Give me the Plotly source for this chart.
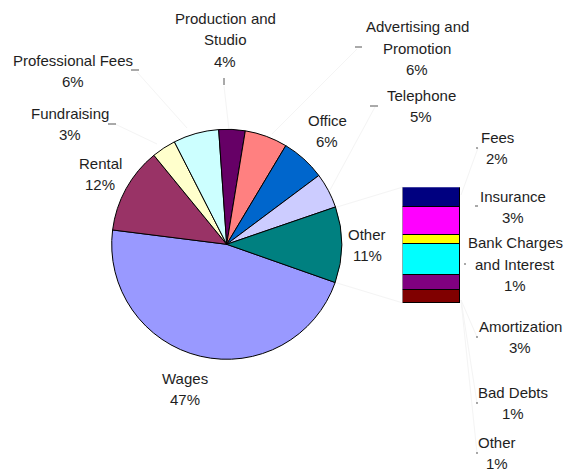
import plotly.graph_objects as go

# ---------------- data ----------------
primary_labels = ["Wages", "Rental", "Fundraising", "Professional Fees",
                  "Production and Studio", "Advertising and Promotion",
                  "Office", "Telephone"]
primary_values = [46.6, 12.1, 3.4, 6.4, 3.7, 6.0, 6.2, 4.95]
primary_colors = ["#9999FF", "#993366", "#FFFFCC", "#CCFFFF",
                  "#660066", "#FF8080", "#0066CC", "#CCCCFF"]

other_label = "Other"
other_color = "#008080"

secondary_labels = ["Fees", "Insurance", "Bank Charges and Interest",
                    "Amortization", "Bad Debts", "Other"]
secondary_values = [1.85, 2.55, 0.85, 2.85, 1.35, 1.2]
secondary_colors = ["#000080", "#FF00FF", "#FFFF00", "#00FFFF", "#800080", "#800000"]

# ---------------- layout helpers ----------------
W, H = 574, 473
FONT = "Liberation Sans, Arial, sans-serif"
FS = 15
LINE = 21.5
TXT = "#1e1e1e"


def px(x, y):
    return x / W, 1 - y / H


other_value = sum(secondary_values)
total = sum(primary_values) + other_value


def pct(v):
    return f"{round(v * 100 / total)}%"


wrap = {
    "Production and Studio": ["Production and", "Studio"],
    "Advertising and Promotion": ["Advertising and", "Promotion"],
    "Bank Charges and Interest": ["Bank Charges", "and Interest"],
}

fig = go.Figure()

# pie (primary)
cx, cy, r = 226.7, 244.3, 115
fig.add_trace(go.Pie(
    labels=primary_labels + [other_label + " "],
    values=primary_values + [other_value],
    marker=dict(colors=primary_colors + [other_color], line=dict(color="black", width=1)),
    sort=False, direction="clockwise", rotation=109.4,
    textinfo="none", hoverinfo="label+percent", showlegend=False,
    domain=dict(x=[(cx - r) / W, (cx + r) / W], y=[(H - cy - r) / H, (H - cy + r) / H]),
))

# stacked bar (secondary), bottom segment first
for lab, val, col in reversed(list(zip(secondary_labels, secondary_values, secondary_colors))):
    fig.add_trace(go.Bar(
        x=[0], y=[val], name=lab, width=1,
        marker=dict(color=col, line=dict(color="black", width=1)),
        showlegend=False, xaxis="x", yaxis="y",
    ))

bx0, bx1, by0, by1 = 402.7, 460, 187.3, 303.3
fig.update_layout(
    width=W, height=H,
    margin=dict(l=0, r=0, t=0, b=0),
    paper_bgcolor="white", plot_bgcolor="rgba(0,0,0,0)",
    barmode="stack", bargap=0,
    xaxis=dict(domain=[bx0 / W, bx1 / W], range=[-0.5, 0.5], visible=False, fixedrange=True),
    yaxis=dict(domain=[(H - by1) / H, (H - by0) / H], range=[0, other_value],
               visible=False, fixedrange=True),
    font=dict(family=FONT, size=FS, color=TXT),
)

# labels
label_pos = {
    "Wages": (185, 389), "Rental": (100, 174), "Fundraising": (70, 124),
    "Professional Fees": (73, 71), "Production and Studio": (225, 40),
    "Advertising and Promotion": (417, 48), "Office": (327, 131),
    "Telephone": (421, 106),
}
sec_pos = {
    "Fees": (497, 148), "Insurance": (513, 207), "Bank Charges and Interest": (515, 264),
    "Amortization": (520, 337), "Bad Debts": (513, 403), "Other": (497, 453),
}

annotations = []


def add_label(lines, pos):
    cxp, cyp = pos
    n = len(lines)
    for i, t in enumerate(lines):
        x, y = px(cxp, cyp + (i - (n - 1) / 2) * LINE)
        annotations.append(dict(x=x, y=y, xref="paper", yref="paper", showarrow=False,
                                text=t, xanchor="center", yanchor="middle"))


for lab, val in zip(primary_labels, primary_values):
    add_label(wrap.get(lab, [lab]) + [pct(val)], label_pos[lab])
add_label([other_label, pct(other_value)], (367, 245))
for lab, val in zip(secondary_labels, secondary_values):
    add_label(wrap.get(lab, [lab]) + [pct(val)], sec_pos[lab])
fig.update_layout(annotations=annotations)

# faint leader / connector lines and dark stubs
faint = [((137, 72), (187, 128)), ((115, 124), (157, 144)), ((224, 86), (229, 130)),
         ((357, 49), (272, 134)), ((375, 107), (330, 190)), ((478, 148), (461, 195)),
         ((337, 207), (403, 187)), ((337, 283), (403, 303)),
         ((461, 300), (477, 337)), ((461, 300), (477, 403)), ((461, 300), (477, 453))]
stubs = [((131, 70), (139, 70)), ((108, 124), (116, 124)), ((224, 78), (224, 85)),
         ((355, 47), (362, 47)), ((370, 106), (378, 106)), ((476, 148), (478, 148)),
         ((475, 206), (478, 206)), ((464, 264), (466, 264)), ((476, 337), (478, 337)),
         ((476, 403), (478, 403)), ((476, 453), (478, 453))]
shapes = []
for (a, b) in faint:
    x0, y0 = px(*a); x1, y1 = px(*b)
    shapes.append(dict(type="line", xref="paper", yref="paper", x0=x0, y0=y0, x1=x1, y1=y1,
                       line=dict(color="#f4f4f4", width=1), layer="below"))
for (a, b) in stubs:
    x0, y0 = px(*a); x1, y1 = px(*b)
    shapes.append(dict(type="line", xref="paper", yref="paper", x0=x0, y0=y0, x1=x1, y1=y1,
                       line=dict(color="#555555", width=1)))
fig.update_layout(shapes=shapes)

fig.write_html("out.html")
